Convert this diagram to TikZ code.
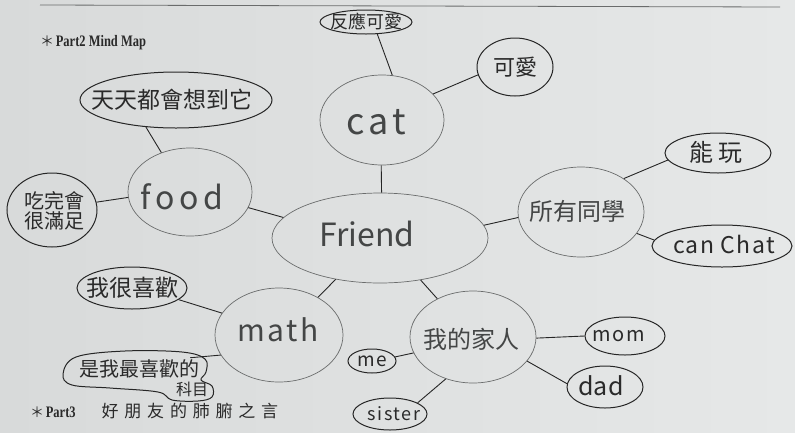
\documentclass[tikz,border=0pt]{standalone}
\usepackage{fontspec}
\usetikzlibrary{shapes.geometric}
\newfontfamily\cjk{Noto Sans CJK TC}
\newfontfamily\hdr[FakeStretch=0.78]{Liberation Serif}
\newcommand\fsz[1]{\fontsize{#1}{#1}\selectfont}
\definecolor{paperL}{HTML}{D8DADA}
\definecolor{paperR}{HTML}{E6E8E8}
\definecolor{pen}{HTML}{262626}
\definecolor{pencil}{HTML}{6A6C6C}
\definecolor{ink}{HTML}{2A2A2A}
\definecolor{ink2}{HTML}{444646}
\begin{document}
\begin{tikzpicture}[x=1pt,y=-1pt,
  mainnode/.style={ellipse, draw=pencil, line width=0.7pt, inner sep=0pt},
  bub/.style={ellipse, draw=pen, line width=1pt, inner sep=0pt},
  mtxt/.style={font=\cjk, text=ink2, inner sep=0pt},
  btxt/.style={font=\cjk, text=ink, inner sep=0pt, align=center},
  link/.style={draw=pen, line width=0.9pt}]
\shade[left color=paperL, right color=paperR] (0,0) rectangle (795,432);
\useasboundingbox (0,0) rectangle (795,432);
\draw[pencil, line width=0.8pt] (40,5) -- (780,7);

% headings
\node[anchor=west, inner sep=0pt, text=ink] (h2) at (40,43) {{\cjk\fsz{14}＊}\,{\hdr\bfseries\fsz{16}Part2 Mind Map}};
\node[anchor=west, inner sep=0pt, text=ink] (h3) at (30,411) {{\cjk\fsz{14}＊}\,{\hdr\bfseries\fsz{16}Part3}\hspace{26pt}{\cjk\addfontfeature{LetterSpace=34}\fsz{17}好朋友的肺腑之言}};

% main nodes
\node[mainnode, minimum width=216pt, minimum height=90pt,
  label={[mtxt, font=\cjk\fsz{32}, xshift=-13pt, yshift=4pt]center:Friend}] (friend) at (380,238) {};
\node[mainnode, minimum width=124pt, minimum height=90pt,
  label={[mtxt, font=\cjk\addfontfeature{LetterSpace=12}\fsz{36}, xshift=-6pt, yshift=-2pt]center:cat}] (cat) at (382,120) {};
\node[mainnode, minimum width=124pt, minimum height=88pt,
  label={[mtxt, font=\cjk\addfontfeature{LetterSpace=15}\fsz{32}, xshift=-8pt, yshift=-5pt]center:food}] (food) at (190,192) {};
\node[mainnode, minimum width=128pt, minimum height=94pt,
  label={[mtxt, font=\cjk\addfontfeature{LetterSpace=8}\fsz{30}, xshift=-1pt, yshift=5pt]center:math}] (math) at (279,335) {};
\node[mainnode, minimum width=126pt, minimum height=90pt,
  label={[mtxt, font=\cjk\fsz{24}, xshift=-4pt, yshift=1pt]center:所有同學}] (peers) at (581,212) {};
\node[mainnode, minimum width=126pt, minimum height=92pt,
  label={[mtxt, font=\cjk\fsz{24}, xshift=-2pt, yshift=-2pt]center:我的家人}] (family) at (473,337) {};

% bubbles
\node[bub, minimum width=92pt, minimum height=24pt,
  label={[btxt, font=\cjk\fsz{18}]center:反應可愛}] (react) at (366,22) {};
\node[bub, minimum width=76pt, minimum height=58pt,
  label={[btxt, font=\cjk\fsz{22}]center:可愛}] (cute) at (515,67) {};
\node[bub, minimum width=192pt, minimum height=56pt,
  label={[btxt, font=\cjk\fsz{23}, xshift=-4pt]center:天天都會想到它}] (think) at (176,100) {};
\node[bub, minimum width=90pt, minimum height=74pt,
  label={[btxt, font=\cjk\fsz{20}, xshift=2pt, yshift=-1pt]center:吃完會\\很滿足}] (full) at (52,210) {};
\node[bub, minimum width=106pt, minimum height=40pt,
  label={[btxt, font=\cjk\addfontfeature{LetterSpace=20}\fsz{24}, xshift=-2pt, yshift=1pt]center:能玩}] (play) at (718,153) {};
\node[bub, minimum width=140pt, minimum height=42pt,
  label={[btxt, font=\cjk\addfontfeature{LetterSpace=6}\fsz{23}, xshift=2pt, yshift=2pt]center:can Chat}] (chat) at (722,246) {};
\node[bub, minimum width=110pt, minimum height=42pt,
  label={[btxt, font=\cjk\fsz{23}]center:我很喜歡}] (like) at (132,288) {};
% favourite-subject bubble: irregular outline with a bulge at lower right
\node[ellipse, draw=none, inner sep=0pt, minimum width=150pt, minimum height=40pt,
  label={[btxt, font=\cjk\fsz{20}, xshift=2pt, yshift=3pt]center:是我最喜歡的},
  label={[btxt, font=\cjk\fsz{16}, xshift=55pt, yshift=-17pt]center:科目}] (fav) at (137,372) {};
\draw[pen, line width=1pt] plot[smooth cycle, tension=0.6] coordinates {
  (63,374) (76,357) (125,351) (182,352) (205,359) (206,372) (201,380)
  (212,386) (212,397) (198,401) (172,400) (158,392) (110,388) (72,385)};
\node[bub, minimum width=80pt, minimum height=38pt,
  label={[btxt, font=\cjk\addfontfeature{LetterSpace=8}\fsz{20}, xshift=-6pt]center:mom}] (mom) at (625,336) {};
\node[bub, minimum width=76pt, minimum height=42pt,
  label={[btxt, font=\cjk\fsz{25}, xshift=-4pt, yshift=1pt]center:dad}] (dad) at (605,387) {};
\node[bub, minimum width=48pt, minimum height=24pt,
  label={[btxt, font=\cjk\addfontfeature{LetterSpace=6}\fsz{19}]center:me}] (me) at (372,361) {};
\node[bub, minimum width=74pt, minimum height=32pt,
  label={[btxt, font=\cjk\addfontfeature{LetterSpace=8}\fsz{18}, xshift=4pt]center:sister}] (sister) at (390,414) {};

% connectors
\draw[link] (react.-47) -- (cat.77);
\draw[link] (cat.27) -- (cute.192);
\draw[link] (cat.-91) -- (friend.88);
\draw[link] (think.222) -- (food.126);
\draw[link] (full.10) -- (food.185);
\draw[link] (food.-15) -- (friend.168);
\draw[link] (friend.7) -- (peers.185);
\draw[link] (peers.38) -- (play.188);
\draw[link] (peers.-21) -- (chat.175);
\draw[link] (friend.223) -- (math.44);
\draw[link] (like.-14) -- (math.159);
\draw[link] (fav.15) -- (math.199);
\draw[link] (friend.-46) -- (family.133);
\draw[link] (family.-1) -- (mom.180);
\draw[link] (family.-24) -- (dad.175);
\draw[link] (me.10) -- (family.195);
\draw[link] (sister.22) -- (family.237);
\end{tikzpicture}
\end{document}
